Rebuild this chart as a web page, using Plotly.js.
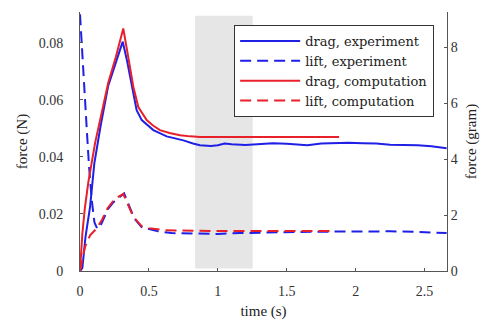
<!DOCTYPE html>
<html>
<head>
<meta charset="utf-8">
<script src="https://cdn.plot.ly/plotly-3.0.1.min.js"></script>
<style>html,body{margin:0;padding:0;background:#fff;}#chart{width:486px;height:321px;}</style>
</head>
<body>
<div id="chart"></div>
<script>
// drag, experiment
const dragExpT = [0,0.017,0.04,0.073,0.104,0.15,0.205,0.26,0.31,0.34,0.375,0.411,0.448,0.49,0.532,0.629,0.75,0.82,0.87,0.95,1.0,1.05,1.1,1.2,1.3,1.4,1.5,1.6,1.65,1.75,1.85,1.95,2.05,2.15,2.25,2.35,2.45,2.55,2.62,2.66];
const dragExpF = [0,0.001,0.012,0.0225,0.0377,0.051,0.065,0.073,0.0804,0.074,0.0646,0.0564,0.0529,0.051,0.0494,0.0472,0.0458,0.0447,0.0441,0.0438,0.0441,0.0447,0.0444,0.0442,0.0444,0.0448,0.0446,0.0443,0.0441,0.0447,0.0448,0.045,0.0448,0.0447,0.0443,0.0442,0.0441,0.0437,0.0433,0.043];
// lift, experiment
const liftExpT = [0,0.012,0.025,0.036,0.05,0.065,0.085,0.105,0.125,0.145,0.175,0.205,0.24,0.278,0.32,0.35,0.394,0.447,0.5,0.568,0.665,0.8,1.0,1.16,1.4,1.6,1.8,2.0,2.25,2.45,2.61,2.66];
const liftExpF = [0.090,0.081,0.07,0.06,0.049,0.037,0.025,0.017,0.0148,0.0155,0.019,0.0219,0.024,0.0254,0.0272,0.0236,0.0184,0.0154,0.0147,0.0139,0.0133,0.0131,0.013,0.0133,0.0136,0.0137,0.0138,0.0139,0.0139,0.0137,0.0134,0.0133];
// drag, computation
const dragCompT = [0,0.008,0.017,0.035,0.06,0.085,0.11,0.16,0.205,0.26,0.3,0.314,0.35,0.387,0.423,0.455,0.484,0.53,0.58,0.65,0.726,0.8,0.871,1.0,1.3,1.6,1.88];
const dragCompF = [0,0.006,0.013,0.022,0.031,0.038,0.045,0.056,0.066,0.075,0.082,0.085,0.075,0.0646,0.0575,0.055,0.0529,0.051,0.0494,0.0484,0.0476,0.0472,0.047,0.047,0.047,0.047,0.047];
// lift, computation
const liftCompT = [0,0.015,0.036,0.073,0.12,0.16,0.2,0.24,0.278,0.314,0.35,0.387,0.447,0.5,0.617,0.8,1.0,1.3,1.6,1.85];
const liftCompF = [0,0.004,0.0084,0.0125,0.0149,0.018,0.022,0.0245,0.026,0.027,0.023,0.019,0.0157,0.015,0.0143,0.0141,0.014,0.014,0.0141,0.014];

const names = ["drag, experiment","lift, experiment","drag, computation","lift, computation"];
const xTicks = [0,0.5,1,1.5,2,2.5];
const xTickText = ["0","0.5","1","1.5","2","2.5"];
const yTicks = [0,0.02,0.04,0.06,0.08];
const yTickText = ["0","0.02","0.04","0.06","0.08"];
const y2Ticks = [0,2,4,6,8];
const y2TickText = ["0","2","4","6","8"];
const shadeT = [0.835,1.253];

const blue = "#1f1fe6", red = "#e8202a";
const dashPat = "11px,6px";
const fMax = 0.0908;
const g = 0.00981;
const xMax = 2.663;

const traces = [
  {x: dragExpT, y: dragExpF, name: names[0], mode: "lines", line: {color: blue, width: 2}},
  {x: liftExpT, y: liftExpF, name: names[1], mode: "lines", line: {color: blue, width: 2, dash: dashPat}},
  {x: dragCompT, y: dragCompF, name: names[2], mode: "lines", line: {color: red, width: 2}},
  {x: liftCompT, y: liftCompF, name: names[3], mode: "lines", line: {color: red, width: 2, dash: dashPat}},
  {x: [], y: [], yaxis: "y2", showlegend: false, hoverinfo: "skip", mode: "lines"},
  {x: [], y: [], yaxis: "y3", showlegend: false, hoverinfo: "skip", mode: "lines"},
  {x: [], y: [], xaxis: "x2", showlegend: false, hoverinfo: "skip", mode: "lines"}
];

const axCol = "#555";
const clear = "rgba(0,0,0,0)";
const tickFont = {family: "Liberation Serif, Times New Roman, serif", size: 14, color: "#333"};
const titleFont = {family: "Liberation Serif, Times New Roman, serif", size: 15, color: "#222"};

const layout = {
  width: 486, height: 321,
  margin: {l: 80, r: 39, t: 12, b: 50, pad: 0},
  paper_bgcolor: "#fff", plot_bgcolor: "rgba(0,0,0,0)",
  showlegend: true,
  legend: {
    x: 0.42, y: 0.95, xanchor: "left", yanchor: "top",
    bgcolor: "#fff", bordercolor: "#333", borderwidth: 1,
    font: {family: "DejaVu Serif, serif", size: 13, color: "#222"},
    itemwidth: 60, tracegroupgap: 0
  },
  xaxis: {
    range: [0, xMax], tickvals: xTicks, ticktext: xTickText,
    ticks: "outside", ticklen: 7, tickcolor: clear,
    showline: true, linecolor: axCol, linewidth: 1, showgrid: false, zeroline: false,
    tickfont: tickFont, title: {text: "time (s)", font: titleFont, standoff: 7}
  },
  xaxis2: {
    overlaying: "x", anchor: "y", side: "bottom",
    range: [0, xMax], tickvals: xTicks, showticklabels: false,
    ticks: "inside", ticklen: 3, tickcolor: axCol,
    showline: false, showgrid: false, zeroline: false
  },
  yaxis: {
    range: [0, fMax], tickvals: yTicks, ticktext: yTickText,
    ticks: "outside", ticklen: 13, tickcolor: clear,
    showline: true, linecolor: axCol, linewidth: 1, showgrid: false, zeroline: false,
    tickfont: tickFont, title: {text: "force (N)", font: titleFont, standoff: 7}
  },
  yaxis3: {
    overlaying: "y", anchor: "x", side: "left",
    range: [0, fMax], tickvals: yTicks, showticklabels: false,
    ticks: "inside", ticklen: 3, tickcolor: axCol,
    showline: false, showgrid: false, zeroline: false
  },
  yaxis2: {
    overlaying: "y", side: "right", anchor: "x",
    range: [0, fMax / g], tickvals: y2Ticks, ticktext: y2TickText,
    ticks: "inside", ticklen: 3, tickcolor: axCol,
    showline: true, linecolor: axCol, linewidth: 1, showgrid: false, zeroline: false,
    tickfont: tickFont, title: {text: "force (gram)", font: titleFont, standoff: 8}
  },
  shapes: [{
    type: "rect", xref: "x", yref: "y", layer: "below",
    x0: shadeT[0], x1: shadeT[1], y0: 0.0009, y1: 0.0895,
    fillcolor: "#e6e6e6", line: {width: 0}
  }]
};

Plotly.newPlot("chart", traces, layout, {staticPlot: true, displayModeBar: false});
</script>
</body>
</html>
